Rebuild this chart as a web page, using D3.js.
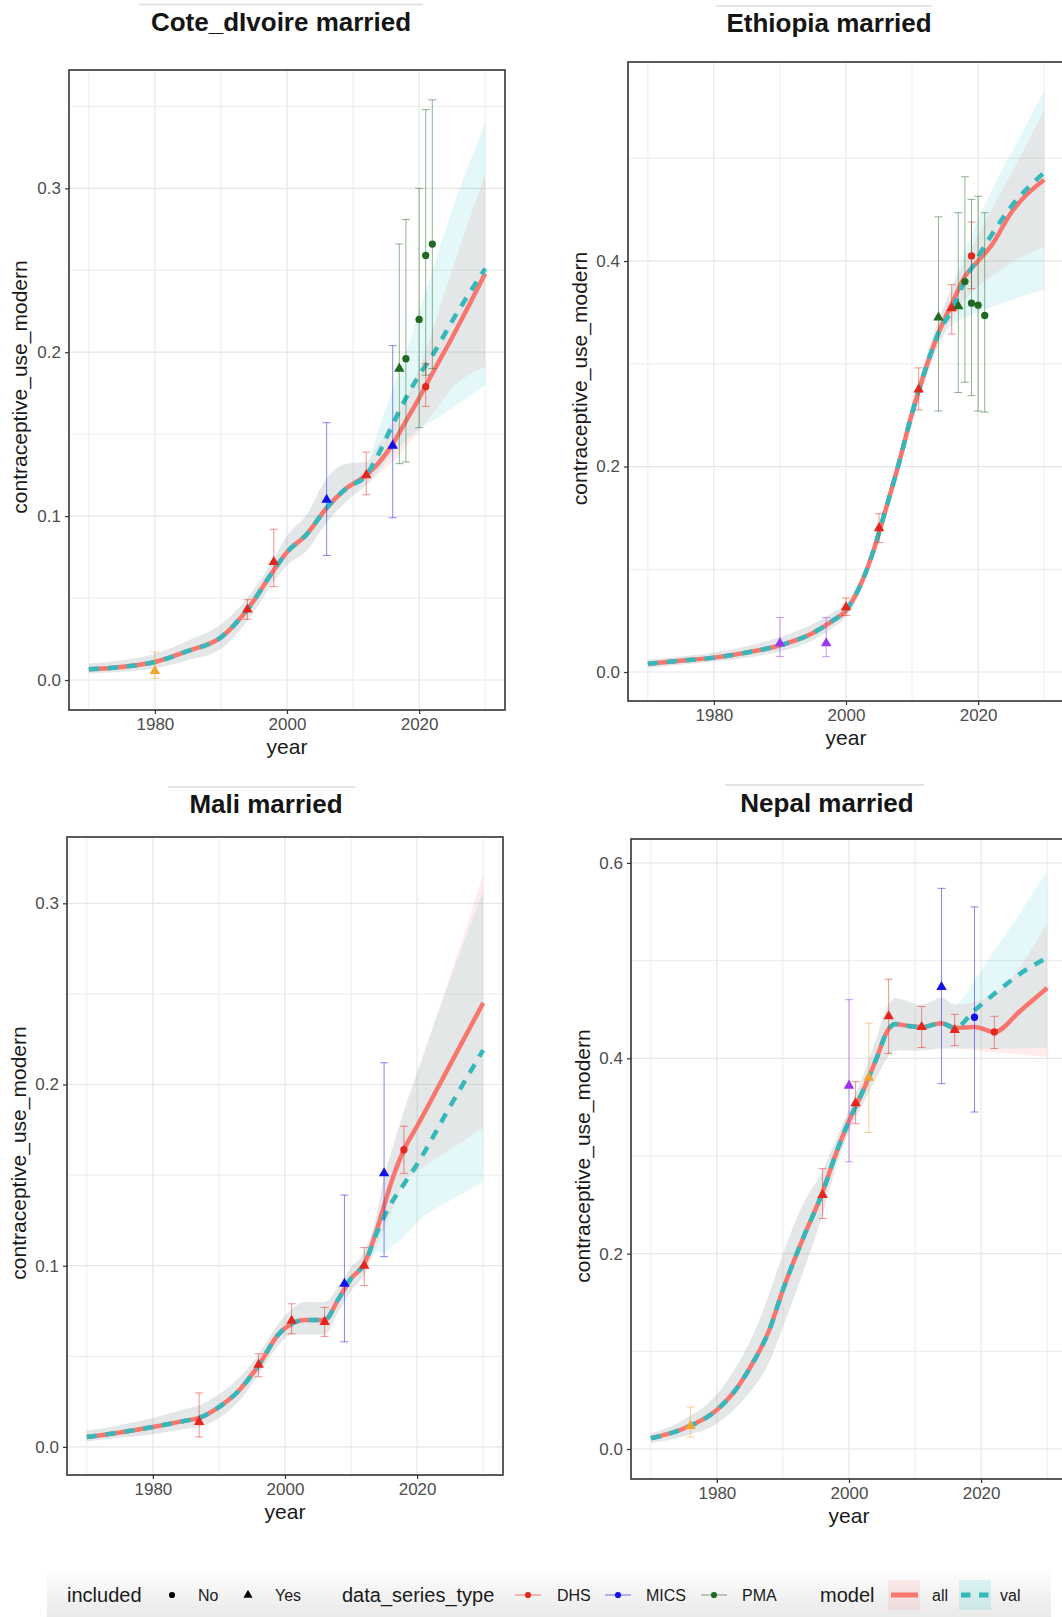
<!DOCTYPE html>
<html><head><meta charset="utf-8">
<script src="https://cdn.jsdelivr.net/npm/d3@7"></script>
<style>
html,body{margin:0;padding:0;background:#fff;}
svg{display:block;font-family:"Liberation Sans",Arial,Helvetica,sans-serif;}
</style></head>
<body><svg id="chart" width="1062" height="1617"></svg>
<script>
// ---------------- DATA ----------------
const xTickYears = [1980, 2000, 2020];
const xMinorYears = [1970, 1990, 2010, 2030];
const yTicksCiv = [0, 0.1, 0.2, 0.3], yMinorCiv = [0.05, 0.15, 0.25, 0.35];
const yTicksEth = [0, 0.2, 0.4],      yMinorEth = [0.1, 0.3, 0.5];
const yTicksMali = [0, 0.1, 0.2, 0.3], yMinorMali = [0.05, 0.15, 0.25];
const yTicksNep = [0, 0.2, 0.4, 0.6], yMinorNep = [0.1, 0.3, 0.5];

const includedLevels = ["No", "Yes"];
const sourceLevels = ["DHS", "MICS", "PMA"];
const modelLevels = ["all", "val"];

// Cote d'Ivoire
const civModelYear = [1970,1975,1980,1985,1990,1994,1998,2000,2003,2006,2009,2012,2014,2016,2018,2020,2022,2025,2030];
const civAllMean = [0.0065,0.008,0.011,0.0177,0.026,0.043,0.067,0.078,0.089,0.105,0.117,0.125,0.133,0.144,0.158,0.172,0.187,0.209,0.248];
const civAllLow  = [0.004,0.005,0.007,0.012,0.019,0.036,0.060,0.070,0.079,0.096,0.109,0.119,0.126,0.133,0.142,0.152,0.162,0.178,0.191];
const civAllHigh = [0.010,0.012,0.016,0.024,0.034,0.050,0.074,0.088,0.101,0.123,0.132,0.133,0.145,0.158,0.172,0.190,0.213,0.250,0.309];
const civValMean = [0.0065,0.008,0.011,0.0177,0.026,0.043,0.067,0.078,0.089,0.105,0.117,0.125,0.139,0.156,0.172,0.186,0.198,0.219,0.251];
const civValLow  = [0.004,0.005,0.007,0.012,0.019,0.036,0.060,0.070,0.079,0.096,0.109,0.119,0.128,0.138,0.146,0.153,0.158,0.166,0.180];
const civValHigh = [0.010,0.012,0.016,0.024,0.034,0.050,0.074,0.088,0.101,0.123,0.132,0.133,0.155,0.178,0.200,0.225,0.250,0.287,0.340];
const civObsYear  = [1980,1994,1998,2006,2012,2016,2017,2018,2020,2021,2021,2022];
const civObsValue = [0.0055,0.043,0.072,0.110,0.125,0.143,0.190,0.196,0.220,0.179,0.259,0.266];
const civObsLow   = [0.001,0.037,0.057,0.076,0.113,0.099,0.132,0.133,0.154,0.167,0.186,0.190];
const civObsHigh  = [0.017,0.049,0.092,0.157,0.139,0.204,0.266,0.281,0.300,0.193,0.348,0.354];
const civObsSource = ["Other","DHS","DHS","MICS","DHS","MICS","PMA","PMA","PMA","DHS","PMA","PMA"];
const civObsIncluded = ["Yes","Yes","Yes","Yes","Yes","Yes","Yes","No","No","No","No","No"];

// Ethiopia
const ethModelYear = [1970,1975,1980,1985,1990,1995,1998,2000,2002,2004,2006,2008,2010,2012,2014,2016,2018,2020,2022,2025,2030];
const ethAllMean = [0.008,0.011,0.014,0.019,0.026,0.038,0.050,0.060,0.082,0.115,0.158,0.203,0.252,0.294,0.330,0.358,0.385,0.400,0.415,0.447,0.479];
const ethAllLow  = [0.004,0.007,0.010,0.014,0.020,0.031,0.043,0.054,0.076,0.108,0.150,0.194,0.242,0.284,0.318,0.343,0.362,0.375,0.385,0.398,0.414];
const ethAllHigh = [0.012,0.015,0.019,0.025,0.034,0.047,0.058,0.066,0.088,0.122,0.166,0.212,0.262,0.304,0.342,0.373,0.400,0.425,0.450,0.485,0.547];
const ethValMean = [0.008,0.011,0.014,0.019,0.026,0.038,0.050,0.060,0.082,0.115,0.158,0.203,0.252,0.294,0.330,0.352,0.381,0.404,0.425,0.453,0.486];
const ethValLow  = [0.004,0.007,0.010,0.014,0.020,0.031,0.043,0.054,0.076,0.108,0.150,0.194,0.242,0.284,0.318,0.337,0.345,0.350,0.355,0.362,0.372];
const ethValHigh = [0.012,0.015,0.019,0.025,0.034,0.047,0.058,0.066,0.088,0.122,0.166,0.212,0.262,0.304,0.342,0.376,0.410,0.440,0.468,0.505,0.566];
const ethObsYear  = [1990,1997,2000,2005,2011,2014,2016,2017,2018,2019,2019,2020,2021];
const ethObsValue = [0.028,0.028,0.063,0.140,0.275,0.345,0.354,0.356,0.380,0.405,0.359,0.357,0.347];
const ethObsLow   = [0.015,0.015,0.055,0.126,0.255,0.254,0.329,0.272,0.282,0.373,0.269,0.254,0.253];
const ethObsHigh  = [0.053,0.053,0.072,0.154,0.296,0.443,0.377,0.447,0.482,0.438,0.460,0.463,0.447];
const ethObsSource = ["Other2","Other2","DHS","DHS","DHS","PMA","DHS","PMA","PMA","DHS","PMA","PMA","PMA"];
const ethObsIncluded = ["Yes","Yes","Yes","Yes","Yes","Yes","Yes","Yes","No","No","No","No","No"];

// Mali
const maliModelYear = [1970,1975,1980,1985,1987,1990,1993,1996,1999,2001,2003,2006,2008,2010,2012,2014,2015,2016,2018,2020,2025,2030];
const maliAllMean = [0.0055,0.008,0.011,0.0145,0.016,0.022,0.031,0.045,0.062,0.068,0.070,0.070,0.081,0.093,0.101,0.121,0.133,0.145,0.164,0.177,0.211,0.245];
const maliAllLow  = [0.003,0.005,0.007,0.010,0.011,0.016,0.025,0.040,0.056,0.062,0.062,0.062,0.074,0.086,0.095,0.112,0.120,0.128,0.146,0.152,0.164,0.176];
const maliAllHigh = [0.009,0.012,0.016,0.021,0.023,0.029,0.038,0.051,0.068,0.076,0.080,0.080,0.088,0.099,0.108,0.130,0.150,0.162,0.186,0.207,0.260,0.316];
const maliValMean = [0.0055,0.008,0.011,0.0145,0.016,0.022,0.031,0.045,0.062,0.068,0.070,0.070,0.081,0.093,0.101,0.119,0.127,0.134,0.145,0.156,0.188,0.219];
const maliValLow  = [0.003,0.005,0.007,0.010,0.011,0.016,0.025,0.040,0.056,0.062,0.062,0.062,0.074,0.086,0.095,0.108,0.107,0.110,0.116,0.124,0.136,0.146];
const maliValHigh = [0.009,0.012,0.016,0.021,0.023,0.029,0.038,0.051,0.068,0.076,0.080,0.080,0.088,0.099,0.108,0.130,0.149,0.161,0.185,0.206,0.258,0.307];
const maliObsYear  = [1987,1996,2001,2006,2009,2012,2015,2018];
const maliObsValue = [0.0138,0.0453,0.0696,0.069,0.090,0.100,0.151,0.164];
const maliObsLow   = [0.0055,0.0387,0.0624,0.061,0.058,0.089,0.105,0.151];
const maliObsHigh  = [0.0298,0.0514,0.079,0.077,0.139,0.110,0.212,0.177];
const maliObsSource = ["DHS","DHS","DHS","DHS","MICS","DHS","MICS","DHS"];
const maliObsIncluded = ["Yes","Yes","Yes","Yes","Yes","Yes","Yes","No"];

// Nepal
const nepModelYear = [1970,1975,1980,1983,1985,1988,1990,1993,1996,1998,2000,2002,2004,2006,2007,2009,2011,2014,2016,2019,2022,2026,2030];
const nepAllMean = [0.011,0.021,0.040,0.062,0.083,0.123,0.163,0.215,0.263,0.302,0.336,0.365,0.397,0.430,0.435,0.433,0.432,0.436,0.431,0.432,0.427,0.449,0.472];
const nepAllLow  = [0.006,0.013,0.026,0.043,0.058,0.090,0.125,0.180,0.240,0.288,0.325,0.352,0.378,0.402,0.408,0.408,0.408,0.410,0.410,0.408,0.406,0.404,0.401];
const nepAllHigh = [0.016,0.030,0.056,0.085,0.110,0.160,0.200,0.250,0.285,0.316,0.348,0.380,0.418,0.455,0.462,0.458,0.455,0.462,0.455,0.458,0.466,0.495,0.539];
const nepValMean = [0.011,0.021,0.040,0.062,0.083,0.123,0.163,0.215,0.263,0.302,0.336,0.365,0.397,0.430,0.435,0.433,0.432,0.436,0.431,0.449,0.466,0.487,0.503];
const nepValLow  = [0.006,0.013,0.026,0.043,0.058,0.090,0.125,0.180,0.240,0.288,0.325,0.352,0.378,0.402,0.408,0.408,0.408,0.410,0.410,0.410,0.410,0.410,0.411];
const nepValHigh = [0.016,0.030,0.056,0.085,0.110,0.160,0.200,0.250,0.285,0.316,0.348,0.380,0.418,0.455,0.462,0.458,0.455,0.462,0.455,0.480,0.510,0.550,0.592];
const nepObsYear  = [1976,1996,2000,2001,2003,2006,2011,2014,2016,2019,2022];
const nepObsValue = [0.0235,0.26,0.372,0.354,0.380,0.443,0.432,0.473,0.429,0.442,0.427];
const nepObsLow   = [0.0123,0.236,0.294,0.333,0.324,0.405,0.411,0.374,0.413,0.345,0.410];
const nepObsHigh  = [0.043,0.287,0.460,0.376,0.436,0.481,0.453,0.574,0.445,0.555,0.443];
const nepObsSource = ["Other","DHS","Other2","DHS","Other","DHS","DHS","MICS","DHS","MICS","DHS"];
const nepObsIncluded = ["Yes","Yes","Yes","Yes","Yes","Yes","Yes","Yes","Yes","No","No"];

// ---------------- STYLE / LAYOUT ----------------
const sourceColor = {DHS:"#e5261e", MICS:"#1212e8", PMA:"#216b21", Other:"#f2a530", Other2:"#9b35ee"};
const allColor = "#F8766D", valColor = "#35b8bc", valFill = "#00BFC4";
const allAlpha = 0.13, valAlpha = 0.1;
const FONT = '"Liberation Sans", Arial, Helvetica, sans-serif';

const panels = [
  {title:"Cote_dIvoire married", titleX:281, titleY:31, lineY:4.5, lineX:[139,423],
   box:[69,70,505,710], yDom:[-0.0183,0.3722], yTicks:yTicksCiv, yMinor:yMinorCiv, ylabX:27,
   model:[civModelYear,civAllMean,civAllLow,civAllHigh,civValMean,civValLow,civValHigh],
   obs:[civObsYear,civObsValue,civObsLow,civObsHigh,civObsSource,civObsIncluded]},
  {title:"Ethiopia married", titleX:829, titleY:32, lineY:6, lineX:[716,932],
   box:[628,62,1064,701], yDom:[-0.0282,0.5937], yTicks:yTicksEth, yMinor:yMinorEth, ylabX:587,
   model:[ethModelYear,ethAllMean,ethAllLow,ethAllHigh,ethValMean,ethValLow,ethValHigh],
   obs:[ethObsYear,ethObsValue,ethObsLow,ethObsHigh,ethObsSource,ethObsIncluded]},
  {title:"Mali married", titleX:266, titleY:813, lineY:787, lineX:[168,355],
   box:[67,837,503,1475], yDom:[-0.0155,0.3366], yTicks:yTicksMali, yMinor:yMinorMali, ylabX:26,
   model:[maliModelYear,maliAllMean,maliAllLow,maliAllHigh,maliValMean,maliValLow,maliValHigh],
   obs:[maliObsYear,maliObsValue,maliObsLow,maliObsHigh,maliObsSource,maliObsIncluded]},
  {title:"Nepal married", titleX:827, titleY:812, lineY:785, lineX:[725,924],
   box:[631,839,1067,1479], yDom:[-0.0307,0.6245], yTicks:yTicksNep, yMinor:yMinorNep, ylabX:590,
   model:[nepModelYear,nepAllMean,nepAllLow,nepAllHigh,nepValMean,nepValLow,nepValHigh],
   obs:[nepObsYear,nepObsValue,nepObsLow,nepObsHigh,nepObsSource,nepObsIncluded]}
];

const svg = d3.select("#chart");
const defs = svg.append("defs");
svg.append("rect").attr("width",1062).attr("height",1617).attr("fill","#fff");

panels.forEach((p, i) => {
  const [L, T, R, B] = p.box;
  const x = d3.scaleLinear().domain([1967, 2033]).range([L, R]);
  const y = d3.scaleLinear().domain(p.yDom).range([B, T]);
  const g = svg.append("g");

  g.append("line").attr("x1", p.lineX[0]).attr("x2", p.lineX[1])
    .attr("y1", p.lineY).attr("y2", p.lineY).attr("stroke", "#dddddd").attr("stroke-width", 1.5);
  g.append("text").attr("x", p.titleX).attr("y", p.titleY).attr("text-anchor", "middle")
    .attr("font-size", 26).attr("font-weight", "bold").attr("fill", "#151515").text(p.title);

  const grid = g.append("g");
  grid.selectAll(".vmin").data(xMinorYears).join("line")
    .attr("x1", d => x(d)).attr("x2", d => x(d)).attr("y1", T).attr("y2", B)
    .attr("stroke", "#ececec").attr("stroke-width", 1);
  grid.selectAll(".hmin").data(p.yMinor.filter(v => v <= p.yDom[1])).join("line")
    .attr("x1", L).attr("x2", R).attr("y1", d => y(d)).attr("y2", d => y(d))
    .attr("stroke", "#ececec").attr("stroke-width", 1);
  grid.selectAll(".vmaj").data(xTickYears).join("line")
    .attr("x1", d => x(d)).attr("x2", d => x(d)).attr("y1", T).attr("y2", B)
    .attr("stroke", "#e6e6e6").attr("stroke-width", 1.2);
  grid.selectAll(".hmaj").data(p.yTicks).join("line")
    .attr("x1", L).attr("x2", R).attr("y1", d => y(d)).attr("y2", d => y(d))
    .attr("stroke", "#e6e6e6").attr("stroke-width", 1.2);

  defs.append("clipPath").attr("id", "clip" + i).append("rect")
    .attr("x", L).attr("y", T).attr("width", R - L).attr("height", B - T);
  const plot = g.append("g").attr("clip-path", `url(#clip${i})`);

  const [yr, aM, aL, aH, vM, vL, vH] = p.model;
  const allRows = yr.map((d, k) => ({year: d, mean: aM[k], lo: aL[k], hi: aH[k]}));
  const valRows = yr.map((d, k) => ({year: d, mean: vM[k], lo: vL[k], hi: vH[k]}));

  const area = d3.area().x(d => x(d.year)).y0(d => y(d.lo)).y1(d => y(d.hi)).curve(d3.curveMonotoneX);
  const line = d3.line().x(d => x(d.year)).y(d => y(d.mean)).curve(d3.curveMonotoneX);

  plot.append("path").datum(allRows).attr("d", area).attr("fill", allColor).attr("fill-opacity", allAlpha);
  plot.append("path").datum(valRows).attr("d", area).attr("fill", valFill).attr("fill-opacity", valAlpha);
  plot.append("path").datum(allRows).attr("d", line).attr("fill", "none")
    .attr("stroke", allColor).attr("stroke-width", 4.5);
  plot.append("path").datum(valRows).attr("d", line).attr("fill", "none")
    .attr("stroke", valColor).attr("stroke-width", 4.5).attr("stroke-dasharray", "10,9");

  const [oy, ov, ol, oh, os, oi] = p.obs;
  const obs = oy.map((d, k) => ({year: d, v: ov[k], lo: ol[k], hi: oh[k], src: os[k], inc: oi[k]}));
  const eb = plot.append("g");
  obs.forEach(o => {
    const c = sourceColor[o.src], cx = x(o.year);
    const e = eb.append("g").attr("stroke", c).attr("stroke-opacity", 0.5).attr("stroke-width", 1);
    e.append("line").attr("x1", cx).attr("x2", cx).attr("y1", y(o.lo)).attr("y2", y(o.hi));
    e.append("line").attr("x1", cx - 4).attr("x2", cx + 4).attr("y1", y(o.lo)).attr("y2", y(o.lo));
    e.append("line").attr("x1", cx - 4).attr("x2", cx + 4).attr("y1", y(o.hi)).attr("y2", y(o.hi));
  });
  plot.append("g").selectAll("path").data(obs).join("path")
    .attr("transform", d => `translate(${x(d.year)},${y(d.v)})`)
    .attr("d", d => d3.symbol().type(d.inc === "Yes" ? d3.symbolTriangle : d3.symbolCircle)
      .size(d.inc === "Yes" ? 48 : 42)())
    .attr("fill", d => sourceColor[d.src]);

  g.append("rect").attr("x", L).attr("y", T).attr("width", R - L).attr("height", B - T)
    .attr("fill", "none").attr("stroke", "#333").attr("stroke-width", 1.6);

  const ax = g.append("g").attr("transform", `translate(0,${B})`)
    .call(d3.axisBottom(x).tickValues(xTickYears).tickFormat(d3.format("d")).tickSize(4).tickPadding(4));
  const ay = g.append("g").attr("transform", `translate(${L},0)`)
    .call(d3.axisLeft(y).tickValues(p.yTicks).tickFormat(d3.format(".1f")).tickSize(4).tickPadding(4));
  [ax, ay].forEach(a => {
    a.select(".domain").remove();
    a.attr("font-family", FONT).attr("font-size", 17);
    a.selectAll("line").attr("stroke", "#333").attr("stroke-width", 1.2);
    a.selectAll("text").attr("fill", "#4d4d4d");
  });

  g.append("text").attr("x", (L + R) / 2).attr("y", B + 44).attr("text-anchor", "middle")
    .attr("font-size", 21).attr("fill", "#1a1a1a").text("year");
  g.append("text").attr("transform", `translate(${p.ylabX},${(T + B) / 2 - 3}) rotate(-90)`)
    .attr("text-anchor", "middle").attr("font-size", 21).attr("fill", "#1a1a1a")
    .text("contraceptive_use_modern");
});

// ---------------- LEGEND ----------------
const grad = defs.append("linearGradient").attr("id", "legbg").attr("x1", 0).attr("x2", 0).attr("y1", 0).attr("y2", 1);
grad.append("stop").attr("offset", "0%").attr("stop-color", "#ffffff");
grad.append("stop").attr("offset", "100%").attr("stop-color", "#e9e9e9");
const leg = svg.append("g").attr("font-family", FONT);
leg.append("rect").attr("x", 47).attr("y", 1568).attr("width", 1004).attr("height", 49).attr("fill", "url(#legbg)");

const ly = 1595, lb = 1602;
function title(xp, t) {
  leg.append("text").attr("x", xp).attr("y", lb).attr("font-size", 20).attr("fill", "#1a1a1a").text(t);
}
function label(xp, t) {
  leg.append("text").attr("x", xp).attr("y", lb - 1).attr("font-size", 16).attr("fill", "#1a1a1a").text(t);
}
title(67, "included");
leg.append("path").attr("transform", `translate(172,${ly})`).attr("d", d3.symbol().type(d3.symbolCircle).size(30)()).attr("fill", "#000");
label(198, includedLevels[0]);
leg.append("path").attr("transform", `translate(248,${ly})`).attr("d", d3.symbol().type(d3.symbolTriangle).size(36)()).attr("fill", "#000");
label(275, includedLevels[1]);

title(342, "data_series_type");
const srcKeyX = [528, 618, 714], srcLabX = [557, 646, 742];
sourceLevels.forEach((s, k) => {
  const c = sourceColor[s];
  leg.append("line").attr("x1", srcKeyX[k] - 13).attr("x2", srcKeyX[k] + 13).attr("y1", ly).attr("y2", ly)
    .attr("stroke", c).attr("stroke-opacity", 0.6).attr("stroke-width", 1);
  leg.append("path").attr("transform", `translate(${srcKeyX[k]},${ly})`)
    .attr("d", d3.symbol().type(d3.symbolCircle).size(30)()).attr("fill", c);
  label(srcLabX[k], s);
});

title(820, "model");
leg.append("rect").attr("x", 888).attr("y", 1580).attr("width", 32).attr("height", 30).attr("fill", allColor).attr("fill-opacity", 0.13);
leg.append("line").attr("x1", 891).attr("x2", 918).attr("y1", ly).attr("y2", ly).attr("stroke", allColor).attr("stroke-width", 5);
label(932, modelLevels[0]);
leg.append("rect").attr("x", 959).attr("y", 1580).attr("width", 32).attr("height", 30).attr("fill", valFill).attr("fill-opacity", 0.13);
leg.append("line").attr("x1", 961).attr("x2", 990).attr("y1", ly).attr("y2", ly).attr("stroke", valColor).attr("stroke-width", 5).attr("stroke-dasharray", "9.5,8.5");
label(1000, modelLevels[1]);
</script></body></html>
